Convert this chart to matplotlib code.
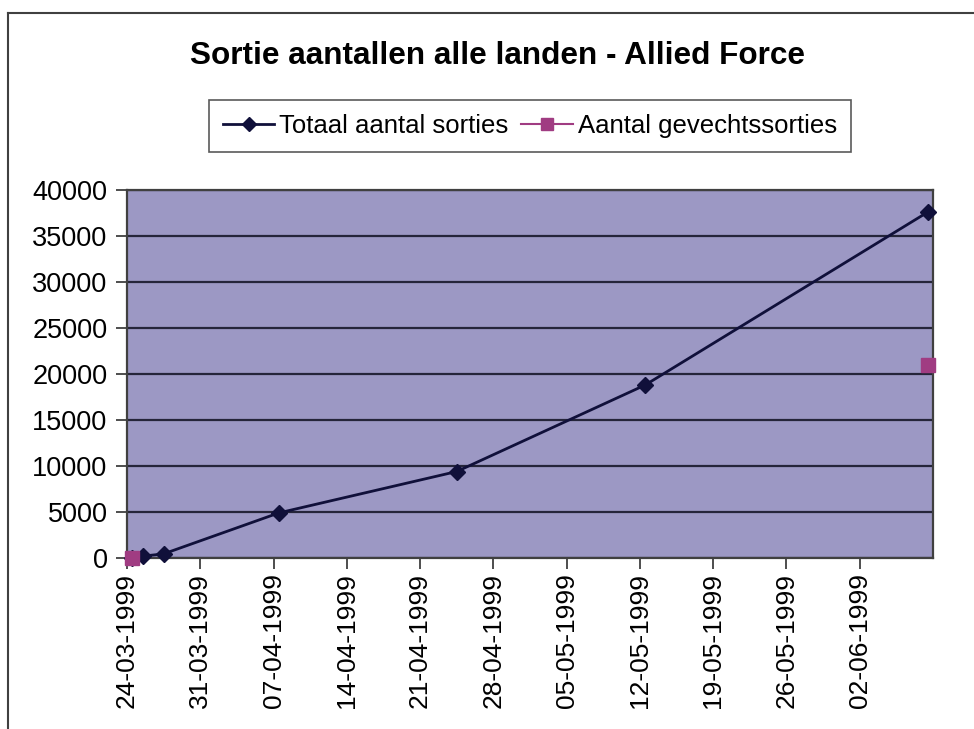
import matplotlib
matplotlib.use("Agg")
import matplotlib.pyplot as plt
import matplotlib.dates as mdates
import numpy as np
import pandas as pd
from matplotlib.lines import Line2D

plt.rcParams['font.family'] = ['Liberation Sans', 'DejaVu Sans']

# ---- data ----
dates = ['1999-03-24', '1999-03-25', '1999-03-27', '1999-04-07',
         '1999-04-24', '1999-05-12', '1999-06-08']
totaal = [0, 200, 450, 4900, 9400, 18800, 37600]
gevechts = [0, np.nan, np.nan, np.nan, np.nan, np.nan, 21000]
tick_labels = ['24-03-1999', '31-03-1999', '07-04-1999', '14-04-1999',
               '21-04-1999', '28-04-1999', '05-05-1999', '12-05-1999',
               '19-05-1999', '26-05-1999', '02-06-1999']
y_ticks = [0, 5000, 10000, 15000, 20000, 25000, 30000, 35000, 40000]
title = 'Sortie aantallen alle landen - Allied Force'
series_names = ['Totaal aantal sorties', 'Aantal gevechtssorties']

x = pd.to_datetime(dates)
half = pd.Timedelta(hours=12)
tick_pos = pd.to_datetime(tick_labels, format='%d-%m-%Y') - half

fig = plt.figure(figsize=(9.74, 7.29), dpi=100)
fig.patch.set_facecolor('white')

ax = fig.add_axes([127/974, 1-558/729, 806/974, 368/729])
ax.set_facecolor('#9c98c4')

navy = '#10103a'
mag = '#a03c82'

ax.plot(x, totaal, color=navy, lw=2, marker='D', ms=8.5, mfc=navy, mec=navy, zorder=4, clip_on=False)
ax.plot(x, gevechts, color=mag, lw=2, marker='s', ms=10, mfc=mag, mec=mag, zorder=5, clip_on=False)

ax.set_xlim(x[0] - half, x[-1] + half)
ax.set_ylim(0, 40000)
ax.set_yticks(y_ticks)
ax.set_yticklabels([str(v) for v in y_ticks], fontsize=19.5)
ax.set_xticks(tick_pos)
ax.set_xticklabels(tick_labels, rotation=90, fontsize=19)
ax.tick_params(axis='both', length=8, width=1.2, color='#303030')
ax.tick_params(axis='y', pad=6)
ax.tick_params(axis='x', pad=3)

ax.grid(axis='y', color='#25253a', lw=1.6)
ax.set_axisbelow(True)
for s in ax.spines.values():
    s.set_color('#404040')
    s.set_linewidth(1.6)

fig.text(497/974, 1-56/729, title, ha='center', va='center', fontsize=22.7, fontweight='bold')

handles = [Line2D([], [], color=navy, lw=2, marker='D', ms=7, mfc=navy, mec=navy),
           Line2D([], [], color=mag, lw=1.5, marker='s', ms=8, mfc=mag, mec=mag)]
leg = fig.legend(handles, series_names, loc='center', bbox_to_anchor=(530/974, 1-126/729),
                 ncol=2, fontsize=18.5, frameon=True, fancybox=False, edgecolor='#303030',
                 handlelength=2.0, handletextpad=0.2, columnspacing=0.5, borderpad=0.55)
leg.get_frame().set_linewidth(1.2)

# outer chart border
fig.add_artist(Line2D([8/974, 1], [1-13/729, 1-13/729], color='#404040', lw=1.5))
fig.add_artist(Line2D([8/974, 8/974], [1-13/729, 0], color='#404040', lw=1.5))

fig.savefig('out.png', dpi=100)
